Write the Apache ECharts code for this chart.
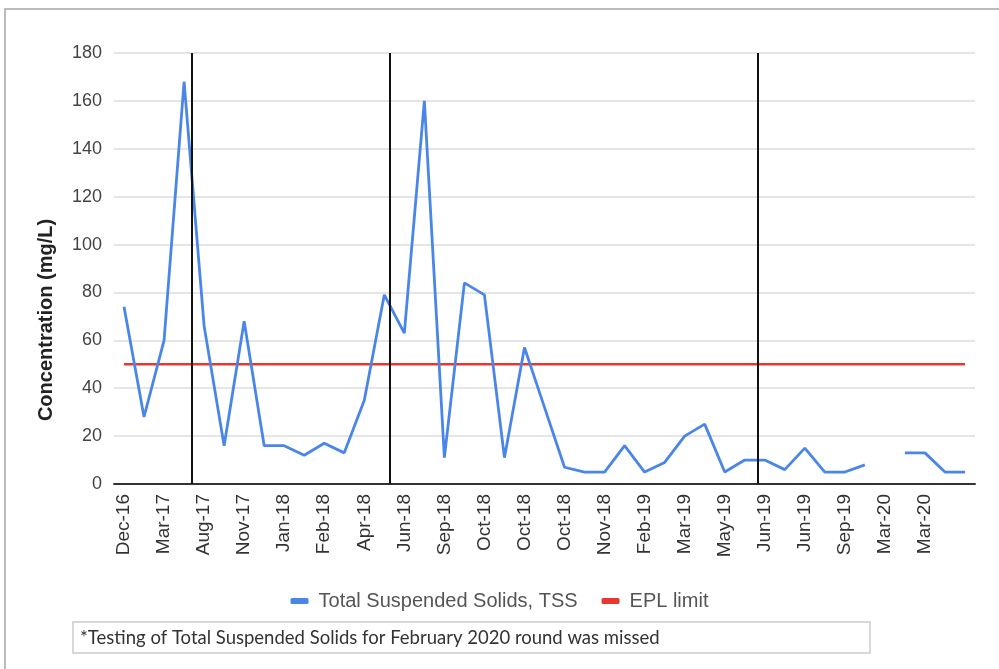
<!DOCTYPE html>
<html>
<head>
<meta charset="utf-8">
<script src="https://cdn.jsdelivr.net/npm/echarts@6/dist/echarts.min.js"></script>
<style>
  html, body { margin: 0; padding: 0; background: #fff; }
  #chart { width: 999px; height: 669px; }
</style>
</head>
<body>
<div id="chart"></div>
<script>
// sampling rounds, only every other one carries a label
const categories = [
  'Dec-16', '', 'Mar-17', '', 'Aug-17', '', 'Nov-17', '', 'Jan-18', '', 'Feb-18', '',
  'Apr-18', '', 'Jun-18', '', 'Sep-18', '', 'Oct-18', '', 'Oct-18', '', 'Oct-18', '',
  'Nov-18', '', 'Feb-19', '', 'Mar-19', '', 'May-19', '', 'Jun-19', '', 'Jun-19', '',
  'Sep-19', '', 'Mar-20', '', 'Mar-20', '', ''
];
const tss = [
  74, 28, 60, 168, 66, 16, 68, 16, 16, 12, 17, 13,
  35, 79, 63, 160, 11, 84, 79, 11, 57, 32, 7, 5,
  5, 16, 5, 9, 20, 25, 5, 10, 10, 6, 15, 5,
  5, 8, null, 13, 13, 5, 5
];
const eplLimit = categories.map(() => 50);
// vertical marker lines, in category-index units
const dividers = [3.38, 13.27, 31.63];
const yTicks = { min: 0, max: 180, interval: 20 };

const font = 'Liberation Sans';

let chart = echarts.init(document.getElementById('chart'));
chart.setOption({
    animation: false,
    backgroundColor: '#fff',
    grid: { left: 114, right: 24, top: 53, bottom: 185, outerBoundsMode: 'none' },
    legend: {
        data: ['Total Suspended Solids, TSS', 'EPL limit'],
        top: 586,
        left: 'center',
        icon: 'roundRect',
        itemWidth: 18,
        itemHeight: 6,
        itemGap: 24,
        textStyle: { fontFamily: font, fontSize: 20, color: '#555', padding: [0, 0, 0, 5] }
    },
    xAxis: [{
        type: 'category',
        data: categories,
        boundaryGap: true,
        axisLine: { lineStyle: { color: '#333', width: 2 } },
        axisTick: { show: false },
        axisLabel: {
            interval: 0,
            rotate: 90,
            margin: 10,
            fontFamily: font,
            fontSize: 19,
            color: '#333'
        }
    }, {
        type: 'value',
        min: -0.5,
        max: categories.length - 0.5,
        show: false
    }],
    yAxis: {
        type: 'value',
        min: yTicks.min,
        max: yTicks.max,
        interval: yTicks.interval,
        axisLine: { show: false },
        axisTick: { show: false },
        axisLabel: { margin: 12, fontFamily: font, fontSize: 18, color: '#444' },
        splitLine: { lineStyle: { color: '#ddd', width: 1.5 } }
    },
    series: [{
        name: 'EPL limit',
        type: 'line',
        data: eplLimit,
        symbol: 'none',
        lineStyle: { color: '#e8372e', width: 2.5 },
        itemStyle: { color: '#e8372e' },
        z: 3
    }, {
        name: 'Total Suspended Solids, TSS',
        type: 'line',
        data: tss,
        symbol: 'none',
        connectNulls: false,
        lineStyle: { color: '#4a86e8', width: 2.8 },
        itemStyle: { color: '#4a86e8' },
        z: 4
    }, {
        name: 'dividers',
        type: 'line',
        xAxisIndex: 1,
        data: [],
        silent: true,
        markLine: {
            silent: true,
            symbol: 'none',
            label: { show: false },
            lineStyle: { color: '#111', width: 2, type: 'solid' },
            data: dividers.map(v => ({ xAxis: v }))
        },
        z: 5
    }],
    graphic: [{
        type: 'rect',
        shape: { x: 5, y: 9, width: 1100, height: 800 },
        style: { fill: 'none', stroke: '#bbb', lineWidth: 2 },
        silent: true
    }, {
        type: 'text',
        x: 46,
        y: 320,
        rotation: Math.PI / 2,
        style: {
            text: 'Concentration (mg/L)',
            fontFamily: font,
            fontWeight: 'bold',
            fontSize: 20,
            fill: '#222',
            align: 'center',
            verticalAlign: 'middle'
        }
    }, {
        type: 'rect',
        shape: { x: 73, y: 622, width: 797, height: 31 },
        style: { fill: '#fff', stroke: '#ccc', lineWidth: 1.5 }
    }, {
        type: 'text',
        x: 80,
        y: 638,
        style: {
            text: '*Testing of Total Suspended Solids for February 2020 round was missed',
            fontFamily: 'Lato',
            fontSize: 18.5,
            fill: '#333',
            verticalAlign: 'middle'
        }
    }]
});
</script>
</body>
</html>
